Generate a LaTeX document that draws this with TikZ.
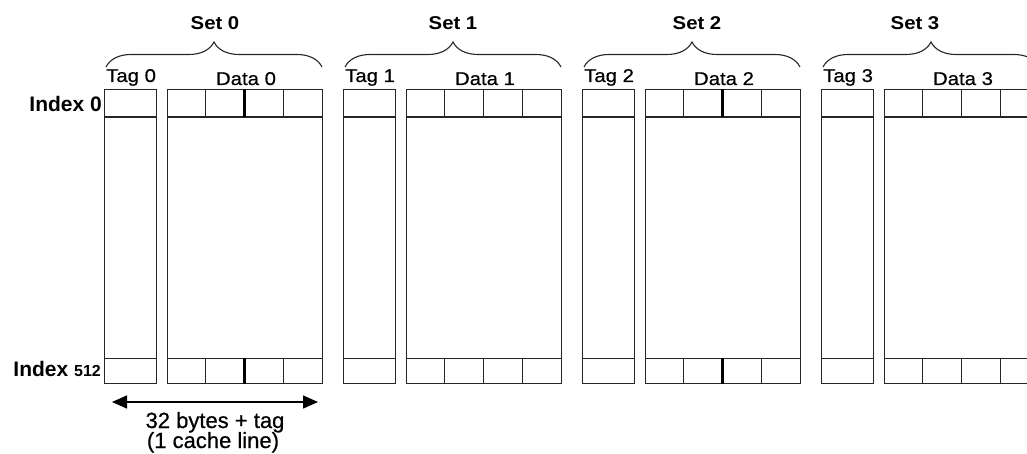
\documentclass[tikz,border=0pt]{standalone}
\usepackage{fontspec}
\setmainfont{Liberation Sans}
\newfontfamily\widefont{Liberation Sans}[FakeStretch=1.1]
\newfontfamily\heavyfont{Liberation Sans}[FakeBold=0.6]
\newfontfamily\wideheavyfont{Liberation Sans}[FakeStretch=1.1,FakeBold=0.6]
\usetikzlibrary{decorations.pathreplacing,arrows.meta}
\begin{document}
\begin{tikzpicture}[x=1pt,y=-1pt,
  ln/.style={line width=1.3pt,draw=black!85},
  thk/.style={line width=2.6pt,draw=black},
  box/.style={ln,rectangle,inner sep=0pt,anchor=north west},
  tagbox/.style={box,minimum width=52pt,minimum height=294pt},
  databox/.style={box,minimum width=155pt,minimum height=294pt},
  setlbl/.style={font=\widefont\bfseries\fontsize{18.5}{20}\selectfont,inner sep=0pt},
  collbl/.style={font=\wideheavyfont\fontsize{18.5}{20}\selectfont,inner sep=0pt},
  idxlbl/.style={font=\bfseries\fontsize{21}{22}\selectfont,inner sep=0pt,anchor=base east},
  note/.style={font=\heavyfont\fontsize{22}{24}\selectfont,inner sep=0pt,anchor=base},
  bracestyle/.style={line width=1.1pt,draw=black!85,decorate,decoration={brace,amplitude=25pt}},
  dimarrow/.style={line width=1.5pt,draw=black,{Triangle[length=15pt,width=13pt]}-{Triangle[length=15pt,width=13pt]}}
]
\useasboundingbox (0,0) rectangle (1027,454);

\foreach \k/\xo/\sx/\thick in {0/104/215/1, 1/343/453/0, 2/582/697/1, 3/821/915/0} {
  % boxes
  \node[tagbox] (tag\k) at (\xo,89) {};
  \node[databox] (data\k) at (\xo+63,89) {};
  % row lines
  \draw[ln] ([yshift=-28pt]tag\k.north west) -- ([yshift=-28pt]tag\k.north east);
  \draw[ln] ([yshift=26pt]tag\k.south west) -- ([yshift=26pt]tag\k.south east);
  \draw[ln] ([yshift=-28pt]data\k.north west) -- ([yshift=-28pt]data\k.north east);
  \draw[ln] ([yshift=26pt]data\k.south west) -- ([yshift=26pt]data\k.south east);
  % dividers
  \foreach \i in {1,3} {
    \draw[ln] ([xshift=\i*38.75pt]data\k.north west) -- ++(0,28);
    \draw[ln] ([xshift=\i*38.75pt]data\k.south west) -- ++(0,-26);
  }
  \ifnum\thick=1 \def\mst{thk}\else\def\mst{ln}\fi
  \draw[\mst] ([xshift=77.5pt]data\k.north west) -- ++(0,28);
  \draw[\mst] ([xshift=77.5pt]data\k.south west) -- ++(0,-26);
  % brace and labels
  \draw[bracestyle] (\xo+2,67) -- (\xo+218,67);
  \node[setlbl] (setl\k) at (\sx,23) {Set \k};
  \node[collbl,anchor=base west] (tagl\k) at (\xo+2,82) {Tag \k};
  \node[collbl,anchor=base] (datal\k) at (\xo+142,85) {Data \k};
}

\node[idxlbl] (idx0) at (102,112) {Index 0};
\node[idxlbl] (idx512) at (101,376) {Index {\fontsize{16}{16}\selectfont 512}};

\coordinate (al) at (112,402);
\coordinate (ar) at (318,402);
\draw[dimarrow] (al) -- (ar);
\node[note] (n1) at (215,428) {32 bytes + tag};
\node[note] (n2) at (213,448) {(1 cache line)};
\end{tikzpicture}
\end{document}
